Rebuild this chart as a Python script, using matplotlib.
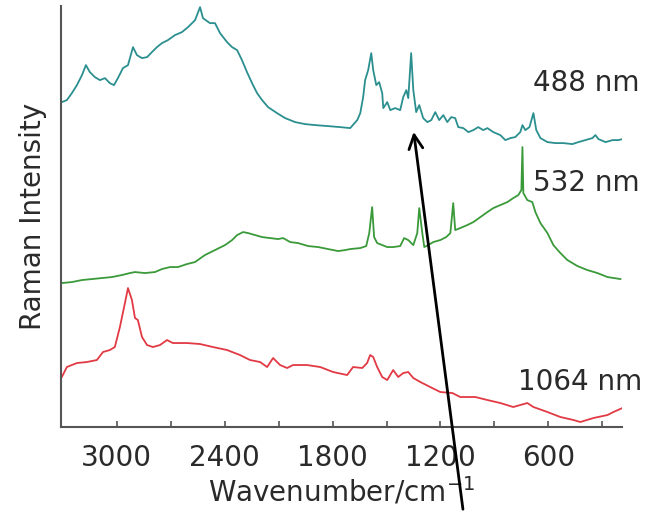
import matplotlib
matplotlib.use("Agg")
import matplotlib.pyplot as plt

# spectra (wavenumber in cm-1, intensity in arbitrary units)
wn_488 = [3306, 3278, 3250, 3222, 3194, 3172, 3150, 3122, 3094, 3066, 3039, 3016, 2994, 2966,
          2938, 2910, 2888, 2860, 2832, 2805, 2777, 2749, 2716, 2677, 2638, 2604, 2565, 2537,
          2521, 2482, 2454, 2426, 2387, 2359, 2331, 2304, 2276, 2248, 2220, 2192, 2159, 2109,
          2064, 2008, 1953, 1897, 1825, 1758, 1702, 1663, 1646, 1630, 1619, 1602, 1585, 1574,
          1557, 1541, 1524, 1518, 1496, 1479, 1452, 1424, 1407, 1390, 1379, 1363, 1351, 1335,
          1318, 1296, 1273, 1251, 1229, 1207, 1184, 1162, 1140, 1118, 1101, 1073, 1045, 1017,
          990, 962, 939, 906, 867, 839, 811, 784, 756, 744, 728, 705, 683, 667, 644, 605, 561,
          516, 466, 433, 394, 355, 338, 321, 282, 243, 210, 188]
int_488 = [325, 327, 334, 342, 352, 362, 355, 350, 347, 349, 344, 342, 349, 359,
           362, 380, 372, 369, 370, 375, 380, 384, 387, 392, 395, 400, 407, 420,
           409, 404, 404, 394, 385, 380, 377, 367, 355, 344, 334, 327, 320, 314,
           309, 305, 303, 302, 301, 300, 299, 307, 314, 330, 347, 357, 374, 357,
           342, 345, 334, 319, 325, 317, 319, 317, 330, 337, 329, 374, 337, 315,
           322, 309, 305, 307, 315, 307, 312, 305, 310, 309, 300, 299, 295, 297,
           300, 297, 299, 295, 292, 287, 289, 290, 295, 302, 297, 300, 314, 297, 289, 285, 284,
           284, 283, 285, 287, 289, 292, 288, 285, 287, 287, 288]

wn_532 = [3306, 3250, 3194, 3139, 3083, 3027, 2972, 2927, 2899, 2844, 2788, 2749, 2704, 2660,
          2610, 2565, 2526, 2510, 2454, 2398, 2359, 2331, 2298, 2270, 2231, 2192, 2148, 2103,
          2075, 2036, 1992, 1936, 1880, 1825, 1769, 1730, 1702, 1646, 1613, 1596, 1580, 1569,
          1552, 1524, 1496, 1463, 1424, 1402, 1379, 1351, 1329, 1318, 1301, 1290, 1268, 1240,
          1201, 1168, 1145, 1129, 1118, 1090, 1051, 1017, 978, 939, 906, 867, 828, 795, 767,
          750, 744, 739, 717, 689, 672, 644, 605, 572, 533, 494, 438, 383, 327, 271, 199]
int_532 = [144, 145, 147, 148, 149, 150, 152, 154, 155, 154, 155, 158, 160, 160,
           163, 165, 170, 172, 177, 182, 187, 192, 195, 194, 192, 190, 189, 188,
           189, 185, 184, 181, 180, 178, 176, 177, 178, 179, 181, 194, 220, 190,
           184, 182, 180, 180, 181, 189, 187, 182, 194, 219, 194, 180, 182, 185,
           187, 190, 194, 224, 197, 199, 202, 205, 210, 215, 219, 222, 225, 229, 232,
           237, 280, 234, 227, 225, 215, 204, 194, 182, 174, 167, 161, 157, 154, 150, 148]

wn_1064 = [3306, 3278, 3222, 3167, 3111, 3077, 3039, 3011, 2983, 2955, 2938, 2916, 2899, 2883,
           2860, 2832, 2799, 2760, 2721, 2688, 2610, 2537, 2465, 2387, 2315, 2259, 2203, 2164,
           2131, 2092, 2053, 2020, 1942, 1869, 1797, 1719, 1686, 1635, 1608, 1591, 1574, 1552,
           1524, 1496, 1463, 1435, 1407, 1379, 1351, 1312, 1257, 1201, 1134, 1090, 1006, 939,
           867, 795, 756, 717, 683, 605, 533, 460, 422, 349, 271, 238, 188]
int_1064 = [50, 60, 64, 65, 67, 75, 77, 80, 100, 124, 139, 127, 109, 107,
            90, 82, 80, 82, 87, 84, 84, 83, 80, 77, 72, 67, 65, 60,
            69, 62, 59, 62, 62, 60, 55, 52, 60, 59, 64, 72, 70, 60,
            50, 47, 57, 50, 54, 55, 49, 45, 40, 35, 34, 30, 30, 27,
            24, 20, 22, 24, 20, 15, 10, 7, 5, 9, 12, 15, 19]

labels = ["488 nm", "532 nm", "1064 nm"]
colors = ["#2b8f8f", "#3a9a3a", "#e23a44"]
xticks = [3000, 2400, 1800, 1200, 600]
minor_xticks = [2700, 2100, 1500, 900, 300]
text_color = "#2a2a2a"

fig = plt.figure(figsize=(6.5, 5.12), dpi=100)
ax = fig.add_axes([0.094, 0.166, 0.863, 0.822])

ax.plot(wn_488, int_488, color=colors[0], lw=1.3)
ax.plot(wn_532, int_532, color=colors[1], lw=1.3)
ax.plot(wn_1064, int_1064, color=colors[2], lw=1.3)

ax.text(683, 344, labels[0], fontsize=20, color=text_color, ha="left", va="center")
ax.text(683, 244, labels[1], fontsize=20, color=text_color, ha="left", va="center")
ax.text(767, 45, labels[2], fontsize=20, color=text_color, ha="left", va="center")

# arrow pointing at the 488 nm band, tail runs off the bottom of the figure
ax.annotate("", xy=(1351, 298), xytext=(1073, -85), annotation_clip=False,
            arrowprops=dict(arrowstyle="->", color="black", lw=2, mutation_scale=25))

ax.set_xlim(3310, 190)
ax.set_ylim(0, 421)
ax.set_xticks(xticks)
ax.set_xticks(minor_xticks, minor=True)
ax.set_yticks([])
ax.tick_params(axis="x", which="both", direction="in", length=4, width=1.2,
               color="#555555", labelsize=20, labelcolor=text_color, pad=12)

for s in ["top", "right"]:
    ax.spines[s].set_visible(False)
for s in ["left", "bottom"]:
    ax.spines[s].set_color("#555555")
    ax.spines[s].set_linewidth(1.5)

ax.set_xlabel("Wavenumber/cm$^{-1}$", fontsize=20, color=text_color, labelpad=3)
ax.set_ylabel("Raman Intensity", fontsize=20, color=text_color)
ax.yaxis.set_label_coords(-0.026, 0.5)

fig.savefig("out.png", dpi=100)
